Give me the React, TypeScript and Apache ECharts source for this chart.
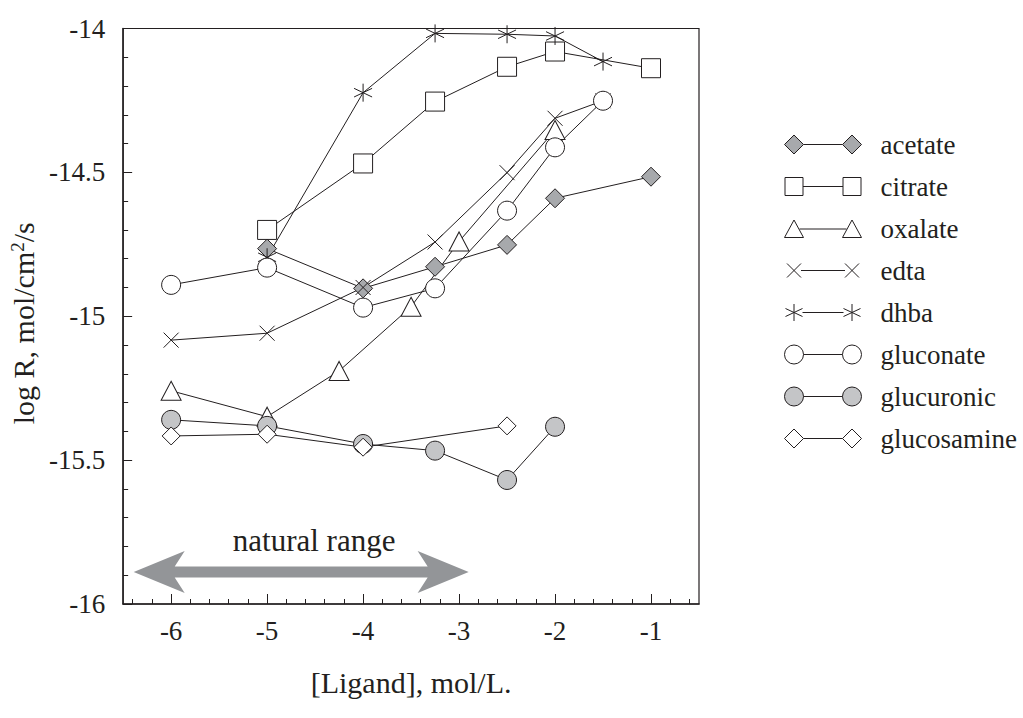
import React, { useEffect, useRef } from 'react';
import * as echarts from 'echarts';

// ---- data (log concentration, log R) ----
const SERIES_NAMES = ['acetate', 'citrate', 'oxalate', 'edta', 'dhba', 'gluconate', 'glucuronic', 'glucosamine'];

const ACETATE_X = [-5, -4, -3.25, -2.5, -2, -1];
const ACETATE_Y = [-14.765, -14.903, -14.828, -14.752, -14.59, -14.515];

const CITRATE_X = [-5, -4, -3.25, -2.5, -2, -1];
const CITRATE_Y = [-14.7, -14.469, -14.254, -14.133, -14.08, -14.138];

const OXALATE_X = [-6, -5, -4.25, -3.5, -3, -2];
const OXALATE_Y = [-15.259, -15.349, -15.19, -14.967, -14.74, -14.353];

const EDTA_X = [-6, -5, -4, -3.25, -2.5, -2, -1.5];
const EDTA_Y = [-15.083, -15.059, -14.9, -14.742, -14.501, -14.312, -14.251];

const DHBA_X = [-5, -4, -3.25, -2.5, -2, -1.5];
const DHBA_Y = [-14.795, -14.223, -14.017, -14.02, -14.026, -14.115];

const GLUCONATE_X = [-6, -5, -4, -3.25, -2.5, -2, -1.5];
const GLUCONATE_Y = [-14.891, -14.831, -14.97, -14.903, -14.633, -14.413, -14.251];

const GLUCURONIC_X = [-6, -5, -4, -3.25, -2.5, -2];
const GLUCURONIC_Y = [-15.36, -15.381, -15.444, -15.467, -15.569, -15.384];

const GLUCOSAMINE_X = [-6, -5, -4, -2.5];
const GLUCOSAMINE_Y = [-15.416, -15.41, -15.455, -15.381];

// axis ticks
const X_MAJOR_TICKS = [-6, -5, -4, -3, -2, -1];
const X_MINOR_TICKS = [
  -6.4, -6.2, -5.8, -5.6, -5.4, -5.2, -4.8, -4.6, -4.4, -4.2, -3.8, -3.6, -3.4, -3.2,
  -2.8, -2.6, -2.4, -2.2, -1.8, -1.6, -1.4, -1.2, -0.8, -0.6,
];
const X_MIN = -6.5;
const X_MAX = -0.5;
const Y_MIN = -16;
const Y_MAX = -14;

// annotation
const ARROW_FROM = -6.39;
const ARROW_TO = -2.9;
const ARROW_Y = -15.889;
const RANGE_LABEL = 'natural range';
const RANGE_LABEL_X = -4.51;
const RANGE_LABEL_Y = -15.778;

const FONT = "'Liberation Serif', 'Times New Roman', serif";
const INK = '#231f20';
const ACETATE_FILL = '#a7a9ac';
const GLUCURONIC_FILL = '#c4c5c7';
const ARROW_COLOR = '#939598';

const X_PATH = 'path://M0,0L10,10M10,0L0,10';
const STAR_PATH = 'path://M5,0L5,10M0,2.6L10,7.4M0,7.4L10,2.6';

// legend icons (marker — line — marker), bbox normalised to 91 x 19
const BOX = 'M0,0M91,19';
const LEG_DIAMOND = `path://${BOX}M0,9.5L9.5,0L19,9.5L9.5,19ZM19,9.5L58,9.5M58,9.5L67.5,0L77,9.5L67.5,19Z`;
const LEG_SQUARE = `path://${BOX}M0.5,0.5L18.5,0.5L18.5,18.5L0.5,18.5ZM18.5,9.5L58.5,9.5M58.5,0.5L76.5,0.5L76.5,18.5L58.5,18.5Z`;
const LEG_TRIANGLE = `path://${BOX}M9.5,1L19,18.5L0,18.5ZM15,10L62,10M67.5,1L77,18.5L58,18.5Z`;
const LEG_X = `path://${BOX}M2.5,2.5L16.5,16.5M16.5,2.5L2.5,16.5M16.5,9.5L60.5,9.5M60.5,2.5L74.5,16.5M74.5,2.5L60.5,16.5`;
const LEG_STAR = `path://${BOX}M9.5,1L9.5,18M1,5.5L18,13.5M1,13.5L18,5.5M18,9.5L59,9.5M67.5,1L67.5,18M59,5.5L76,13.5M59,13.5L76,5.5`;
const LEG_CIRCLE = `path://${BOX}M0,9.5A9.5,9.5,0,1,1,19,9.5A9.5,9.5,0,1,1,0,9.5ZM19,9.5L58,9.5M58,9.5A9.5,9.5,0,1,1,77,9.5A9.5,9.5,0,1,1,58,9.5Z`;

type Spec = { xs: number[]; ys: number[]; symbol: string; size: number | number[]; fill: string; legendIcon: string };

const SPECS: Spec[] = [
  { xs: ACETATE_X, ys: ACETATE_Y, symbol: 'diamond', size: 19, fill: ACETATE_FILL, legendIcon: LEG_DIAMOND },
  { xs: CITRATE_X, ys: CITRATE_Y, symbol: 'rect', size: 19, fill: '#ffffff', legendIcon: LEG_SQUARE },
  { xs: OXALATE_X, ys: OXALATE_Y, symbol: 'triangle', size: [20, 19], fill: '#ffffff', legendIcon: LEG_TRIANGLE },
  { xs: EDTA_X, ys: EDTA_Y, symbol: X_PATH, size: 15, fill: 'none', legendIcon: LEG_X },
  { xs: DHBA_X, ys: DHBA_Y, symbol: STAR_PATH, size: 18, fill: 'none', legendIcon: LEG_STAR },
  { xs: GLUCONATE_X, ys: GLUCONATE_Y, symbol: 'circle', size: 19, fill: '#ffffff', legendIcon: LEG_CIRCLE },
  { xs: GLUCURONIC_X, ys: GLUCURONIC_Y, symbol: 'circle', size: 19, fill: GLUCURONIC_FILL, legendIcon: LEG_CIRCLE },
  { xs: GLUCOSAMINE_X, ys: GLUCOSAMINE_Y, symbol: 'diamond', size: 18, fill: '#ffffff', legendIcon: LEG_DIAMOND },
];

export default function App() {
  const ref = useRef<HTMLDivElement>(null);

  useEffect(() => {
    if (!ref.current) return;
    const chart = echarts.init(ref.current, null, { renderer: 'svg' });

    const series = SPECS.map((s, i) => ({
      name: SERIES_NAMES[i],
      type: 'line',
      xAxisIndex: 0,
      yAxisIndex: 0,
      data: s.xs.map((x, j) => [x, s.ys[j]]),
      symbol: s.symbol,
      symbolSize: s.size,
      showAllSymbol: true,
      lineStyle: { color: INK, width: 1 },
      itemStyle: { color: s.fill, borderColor: INK, borderWidth: 1 },
      emphasis: { disabled: true },
      z: 2,
    }));

    const option: any = {
      animation: false,
      backgroundColor: '#ffffff',
      textStyle: { fontFamily: FONT },
      grid: {
        left: 123,
        top: 28.5,
        right: 324,
        bottom: 114,
        show: true,
        borderColor: INK,
        borderWidth: 1.2,
        backgroundColor: 'transparent',
      },
      legend: {
        orient: 'vertical',
        left: 777,
        top: 126,
        itemWidth: 91,
        itemHeight: 19,
        itemGap: 15,
        selectedMode: false,
        symbolKeepAspect: true,
        textStyle: { fontFamily: FONT, fontSize: 27, color: INK },
        data: SPECS.map((s, i) => ({
          name: SERIES_NAMES[i],
          icon: s.legendIcon,
          itemStyle: { color: s.fill === 'none' ? 'none' : s.fill, borderColor: INK, borderWidth: 1 },
        })),
      },
      xAxis: [
        {
          type: 'value',
          min: X_MIN,
          max: X_MAX,
          position: 'bottom',
          name: '[Ligand], mol/L.',
          nameLocation: 'middle',
          nameGap: 63,
          nameTextStyle: { fontFamily: FONT, fontSize: 30, color: INK },
          axisLine: { show: true, onZero: false, lineStyle: { color: INK, width: 1.5 } },
          axisTick: { show: true, inside: true, length: 10, customValues: X_MAJOR_TICKS, lineStyle: { color: INK, width: 1 } },
          axisLabel: { customValues: X_MAJOR_TICKS, margin: 13, fontFamily: FONT, fontSize: 27, color: INK },
          splitLine: { show: false },
        },
        {
          type: 'value',
          min: X_MIN,
          max: X_MAX,
          position: 'bottom',
          axisLine: { show: false },
          axisTick: { show: true, inside: true, length: 5, customValues: X_MINOR_TICKS, lineStyle: { color: INK, width: 1 } },
          axisLabel: { show: false },
          splitLine: { show: false },
        },
      ],
      yAxis: {
        type: 'value',
        min: Y_MIN,
        max: Y_MAX,
        interval: 0.5,
        name: '{n|log R, mol/cm}{sup|2}{n|/s}',
        nameLocation: 'middle',
        nameGap: 81,
        nameTextStyle: {
          fontFamily: FONT,
          fontSize: 30,
          color: INK,
          padding: [0, 14, 0, 0],
          rich: {
            n: { fontFamily: FONT, fontSize: 30, color: INK },
            sup: { fontFamily: FONT, fontSize: 19, color: INK, verticalAlign: 'top' },
          },
        },
        axisLine: { show: true, onZero: false, lineStyle: { color: INK, width: 1.5 } },
        axisTick: { show: true, inside: true, length: 9, lineStyle: { color: INK, width: 1 } },
        minorTick: { show: true, splitNumber: 5, length: 5, lineStyle: { color: INK, width: 1 } },
        axisLabel: { margin: 18, fontFamily: FONT, fontSize: 27, color: INK, formatter: (v: number) => String(v) },
        splitLine: { show: false },
        minorSplitLine: { show: false },
      },
      series,
    };

    chart.setOption(option);

    const finder = { xAxisIndex: 0, yAxisIndex: 0 };
    const p0 = chart.convertToPixel(finder, [ARROW_FROM, ARROW_Y]) as number[];
    const p1 = chart.convertToPixel(finder, [ARROW_TO, ARROW_Y]) as number[];
    const pt = chart.convertToPixel(finder, [RANGE_LABEL_X, RANGE_LABEL_Y]) as number[];
    const x0 = p0[0];
    const x1 = p1[0];
    const yc = p0[1];
    const L = 51;
    const N = 41;
    const H = 21;
    const T = 5.5;

    chart.setOption({
      graphic: [
        {
          type: 'polygon',
          z: 1,
          shape: {
            points: [
              [x0, yc],
              [x0 + L, yc - H],
              [x0 + N, yc - T],
              [x1 - N, yc - T],
              [x1 - L, yc - H],
              [x1, yc],
              [x1 - L, yc + H],
              [x1 - N, yc + T],
              [x0 + N, yc + T],
              [x0 + L, yc + H],
            ],
          },
          style: { fill: ARROW_COLOR },
        },
        {
          type: 'text',
          z: 3,
          x: pt[0],
          y: pt[1],
          style: {
            text: RANGE_LABEL,
            fontFamily: FONT,
            fontSize: 31,
            fill: INK,
            textAlign: 'center',
            textVerticalAlign: 'middle',
          },
        },
      ],
    });

    return () => chart.dispose();
  }, []);

  return (
    <div
      ref={ref}
      style={{ position: 'fixed', left: 0, top: 0, width: 1023, height: 718, background: '#ffffff' }}
    />
  );
}
